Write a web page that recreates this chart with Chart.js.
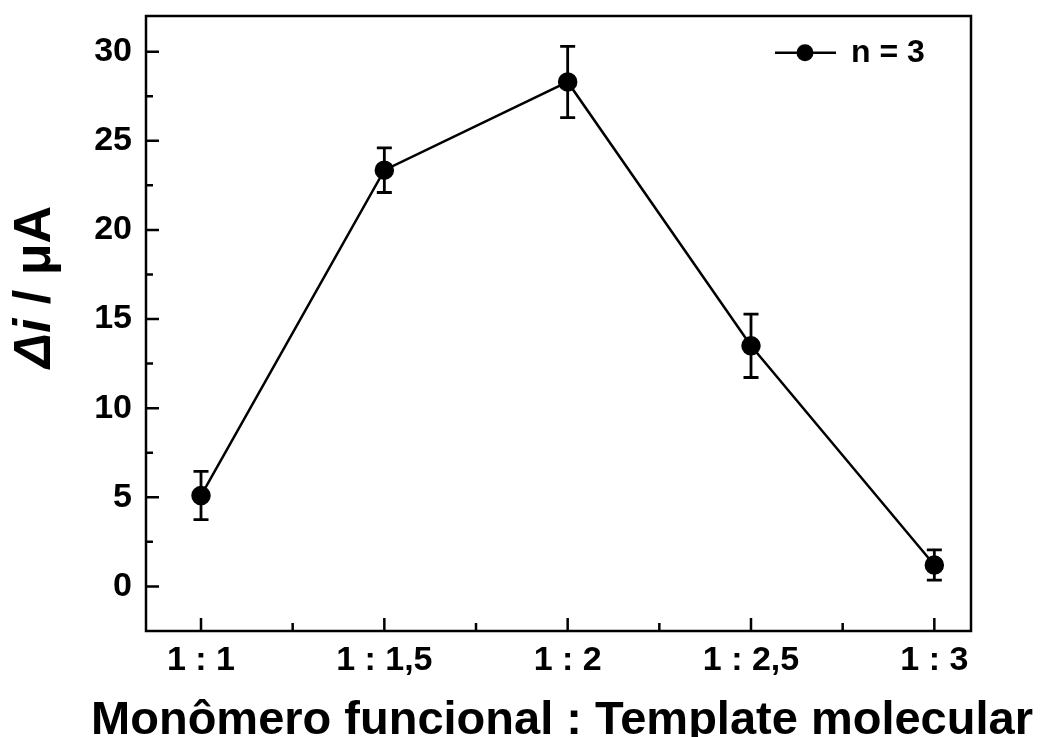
<!DOCTYPE html>
<html>
<head>
<meta charset="utf-8">
<script src="https://cdn.jsdelivr.net/npm/chart.js@4/dist/chart.umd.min.js"></script>
<style>
  html, body { margin: 0; padding: 0; background: #fff; }
  #wrap { width: 1040px; height: 737px; }
</style>
</head>
<body>
<div id="wrap"><canvas id="chart" width="1040" height="737"></canvas></div>
<script>
// Datos
const ratios = [1, 1.5, 2, 2.5, 3];
const ratioLabels = ["1 : 1", "1 : 1,5", "1 : 2", "1 : 2,5", "1 : 3"];
const deltaI = [5.1, 23.35, 28.3, 13.5, 1.2];
const deltaIErr = [1.35, 1.25, 2.0, 1.78, 0.85];
const yTicks = [0, 5, 10, 15, 20, 25, 30];
const legendText = "n = 3";
const xTitle = "Monômero funcional : Template molecular";

const FONT = "'Liberation Sans', Arial, sans-serif";

// Barras de error
const errorBars = {
  id: "errorBars",
  afterDatasetsDraw(chart) {
    const ctx = chart.ctx;
    const y = chart.scales.y;
    const meta = chart.getDatasetMeta(0);
    ctx.save();
    ctx.strokeStyle = "#000";
    ctx.lineWidth = 2.8;
    meta.data.forEach((pt, i) => {
      const top = y.getPixelForValue(deltaI[i] + deltaIErr[i]);
      const bot = y.getPixelForValue(deltaI[i] - deltaIErr[i]);
      ctx.beginPath();
      ctx.moveTo(pt.x, top);
      ctx.lineTo(pt.x, bot);
      ctx.moveTo(pt.x - 7.5, top);
      ctx.lineTo(pt.x + 7.5, top);
      ctx.moveTo(pt.x - 7.5, bot);
      ctx.lineTo(pt.x + 7.5, bot);
      ctx.stroke();
    });
    ctx.restore();
  },
};

// Marco, ticks hacia dentro, leyenda y títulos
const frame = {
  id: "frame",
  afterDraw(chart) {
    const ctx = chart.ctx;
    const a = chart.chartArea;
    const xs = chart.scales.x;
    const ys = chart.scales.y;
    ctx.save();
    ctx.strokeStyle = "#000";
    ctx.lineWidth = 2.5;
    ctx.strokeRect(a.left, a.top, a.right - a.left, a.bottom - a.top);

    ctx.beginPath();
    ys.ticks.forEach((t) => {
      const py = ys.getPixelForValue(t.value);
      ctx.moveTo(a.left, py);
      ctx.lineTo(a.left + 13, py);
      const pm = ys.getPixelForValue(t.value + 2.5);
      if (pm > a.top) {
        ctx.moveTo(a.left, pm);
        ctx.lineTo(a.left + 7, pm);
      }
    });
    const pm0 = ys.getPixelForValue(yTicks[0] - 2.5);
    if (pm0 < a.bottom) {
      ctx.moveTo(a.left, pm0);
      ctx.lineTo(a.left + 7, pm0);
    }
    xs.ticks.forEach((t, i) => {
      const px = xs.getPixelForValue(t.value);
      ctx.moveTo(px, a.bottom);
      ctx.lineTo(px, a.bottom - 13);
      if (i < xs.ticks.length - 1) {
        const pmx = xs.getPixelForValue((t.value + xs.ticks[i + 1].value) / 2);
        ctx.moveTo(pmx, a.bottom);
        ctx.lineTo(pmx, a.bottom - 8);
      }
    });
    ctx.stroke();

    // leyenda
    const ly = ys.getPixelForValue(30) + 1;
    ctx.lineWidth = 2.5;
    ctx.beginPath();
    ctx.moveTo(775, ly);
    ctx.lineTo(836, ly);
    ctx.stroke();
    ctx.fillStyle = "#000";
    ctx.beginPath();
    ctx.arc(805, ly, 8.5, 0, Math.PI * 2);
    ctx.fill();
    ctx.font = "bold 32px " + FONT;
    ctx.textBaseline = "middle";
    ctx.fillText(legendText, 851, ly + 1);

    // título eje X
    ctx.font = "bold 47px " + FONT;
    ctx.textAlign = "center";
    ctx.textBaseline = "alphabetic";
    ctx.fillText(xTitle, 562, 734);

    // título eje Y: "Δi / μA"
    ctx.translate(36, 287);
    ctx.rotate(-Math.PI / 2);
    const it = "italic bold 52px " + FONT;
    const rg = "bold 52px " + FONT;
    ctx.font = it;
    const w1 = ctx.measureText("Δi").width;
    ctx.font = rg;
    const w2 = ctx.measureText(" / μA").width;
    const x0 = -(w1 + w2) / 2;
    ctx.textAlign = "left";
    ctx.textBaseline = "middle";
    ctx.font = it;
    ctx.fillText("Δi", x0, 0);
    ctx.font = rg;
    ctx.fillText(" / μA", x0 + w1, 0);
    ctx.restore();
  },
};

new Chart(document.getElementById("chart"), {
  type: "line",
  data: {
    datasets: [
      {
        label: legendText,
        data: ratios.map((r, i) => ({ x: r, y: deltaI[i] })),
        borderColor: "#000",
        backgroundColor: "#000",
        borderWidth: 2.5,
        pointRadius: 8.5,
        pointHoverRadius: 8.5,
        tension: 0,
      },
    ],
  },
  options: {
    responsive: false,
    animation: false,
    events: [],
    layout: { padding: { top: 16, right: 69, bottom: 0, left: 0 } },
    plugins: { legend: { display: false }, tooltip: { enabled: false } },
    scales: {
      x: {
        type: "linear",
        min: 0.85,
        max: 3.1,
        afterBuildTicks: (s) => { s.ticks = ratios.map((v) => ({ value: v })); },
        afterFit: (s) => { s.height = 106; s.paddingLeft = 0; s.paddingRight = 0; },
        grid: { drawOnChartArea: false, drawTicks: false },
        border: { display: false },
        ticks: {
          color: "#000",
          padding: 9,
          maxRotation: 0,
          autoSkip: false,
          font: { family: FONT, size: 34, weight: "bold" },
          callback: (v) => ratioLabels[ratios.indexOf(v)],
        },
      },
      y: {
        min: -2.5,
        max: 32,
        afterBuildTicks: (s) => { s.ticks = yTicks.map((v) => ({ value: v })); },
        afterFit: (s) => { s.width = 146; s.paddingTop = 0; s.paddingBottom = 0; },
        grid: { drawOnChartArea: false, drawTicks: false },
        border: { display: false },
        ticks: {
          color: "#000",
          padding: 14,
          font: { family: FONT, size: 34, weight: "bold" },
        },
      },
    },
  },
  plugins: [errorBars, frame],
});
</script>
</body>
</html>
